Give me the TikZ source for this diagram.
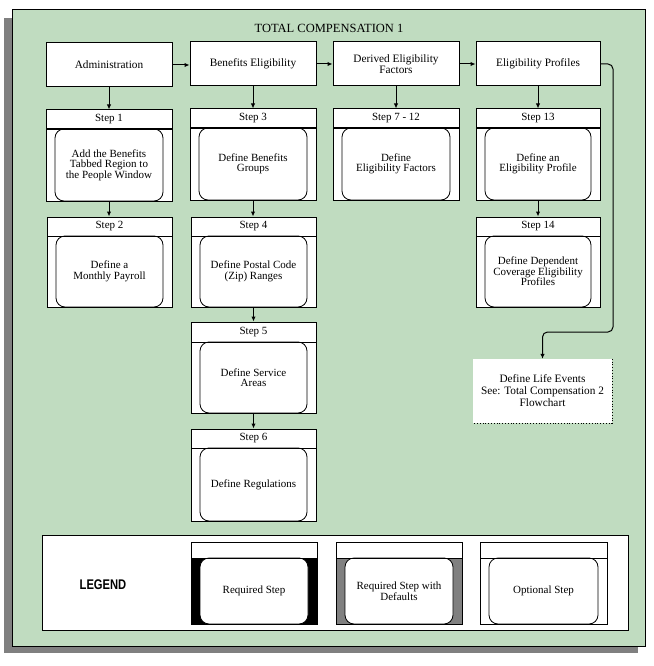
\documentclass[tikz,border=0pt]{standalone}
\usepackage{fontspec}
\setmainfont{Liberation Serif}
\newfontfamily\legendfont[FakeStretch=0.8]{Liberation Sans}
\usetikzlibrary{arrows.meta,fit}
\definecolor{panelgreen}{RGB}{192,220,192}
\definecolor{shadowgray}{RGB}{128,128,128}
\tikzset{
  topbox/.style={draw, line width=1pt, fill=white, minimum height=44pt, minimum width=126pt,
    inner sep=0pt, align=center, font=\fontsize{11.3}{11}\selectfont},
  hdr/.style={font=\fontsize{11}{11}\selectfont, inner sep=0pt},
  bodytxt/.style={font=\fontsize{11}{10.5}\selectfont, align=center, inner sep=0pt},
  frame/.style={draw, line width=1pt, inner sep=0pt},
  conn/.style={line width=1pt, -{Latex[length=5pt,width=4.5pt]}},
}
% #1 name, #2 left, #3 top, #4 right, #5 bottom, #6 header line y, #7 header, #8 body, #9 corner fill
\newcommand\flowstep[9]{%
  \fill[white] (#2,#3) rectangle (#4,#5);
  \fill[#9] (#2,#6) rectangle (#4,#5);
  \draw[line width=0.8pt, fill=white, rounded corners=9pt] (#2+9,#6) rectangle (#4-9,#5);
  \draw[line width=1pt] (#2,#6) -- (#4,#6);
  \node[frame, fit={(#2,#3) (#4,#5)}] (#1) {};
  \node[hdr] (#1h) at ({(#2+#4)/2},{(#3+#6)/2}) {#7};
  \node[bodytxt] (#1b) at ({(#2+#4)/2},{(#6+#5)/2}) {#8};
}
\begin{document}
\begin{tikzpicture}[x=1pt,y=-1pt]
\useasboundingbox (0,0) rectangle (653,666);
% panel with shadow
\fill[shadowgray] (4,18) rectangle (638,653);
\draw[fill=panelgreen, line width=1pt] (12,10) rectangle (645,646);
\node[font=\fontsize{12.5}{12.5}\selectfont] (title) at (329,28) {TOTAL COMPENSATION 1};

% top row
\node[topbox] (admin) at (109,65) {Administration};
\node[topbox] (ben) at (253,64) {Benefits Eligibility};
\node[topbox] (der) at (396,64) {Derived Eligibility\\Factors};
\node[topbox, minimum width=124pt] (prof) at (538,64) {Eligibility Profiles};

% steps
\flowstep{s1}{46}{110}{172}{201}{129}{Step 1}{Add the Benefits\\Tabbed Region to\\the People Window}{white}
\flowstep{s2}{47}{217}{172}{307}{236}{Step 2}{Define a\\Monthly Payroll}{white}
\flowstep{s3}{190}{109}{316}{200}{128}{Step 3}{Define Benefits\\Groups}{white}
\flowstep{s4}{191}{217}{316}{307}{236}{Step 4}{Define Postal Code\\(Zip) Ranges}{white}
\flowstep{s5}{191}{322}{316}{413}{342}{Step 5}{Define Service\\Areas}{white}
\flowstep{s6}{191}{429}{316}{521}{448}{Step 6}{Define Regulations}{white}
\flowstep{s7}{333}{109}{459}{200}{128}{Step 7 - 12}{Define\\Eligibility Factors}{white}
\flowstep{s13}{476}{109}{600}{200}{128}{Step 13}{Define an\\Eligibility Profile}{white}
\flowstep{s14}{476}{217}{600}{307}{236}{Step 14}{Define Dependent\\Coverage Eligibility\\Profiles}{white}

% life events
\node[fill=white, minimum width=139pt, minimum height=64pt, inner sep=0pt, align=center,
  font=\fontsize{11.3}{12}\selectfont] (life) at (542.5,391)
  {Define Life Events\\See: Total Compensation 2\\Flowchart};
\draw[dotted, line width=0.8pt] (life.north east) -- (life.south east) -- (life.south west);

% connectors
\draw[conn] (admin.east) -- (admin.east -| ben.west);
\draw[conn] (ben.east) -- (ben.east -| der.west);
\draw[conn] (der.east) -- (der.east -| prof.west);
\draw[conn] (admin.south) -- (admin.south |- s1.north);
\draw[conn] (s1.south) -- (s1.south |- s2.north);
\draw[conn] (ben.south) -- (ben.south |- s3.north);
\draw[conn] (s3.south) -- (s3.south |- s4.north);
\draw[conn] (s4.south) -- (s4.south |- s5.north);
\draw[conn] (s5.south) -- (s5.south |- s6.north);
\draw[conn] (der.south) -- (der.south |- s7.north);
\draw[conn] (prof.south) -- (prof.south |- s13.north);
\draw[conn] (s13.south) -- (s13.south |- s14.north);
\coordinate (bend) at (613,332);
\draw[conn, rounded corners=5pt] (prof.east) -| (bend) -| (life.north);

% legend
\node[frame, fill=white, fit={(42,535) (628,630)}] (legend) {};
\node[font=\legendfont\bfseries\fontsize{14}{14}\selectfont] (legtitle) at (103,585) {LEGEND};
\flowstep{lreq}{191}{542}{317}{624}{558}{}{Required Step}{black}
\flowstep{ldef}{336}{542}{462}{624}{558}{}{Required Step with\\Defaults}{shadowgray}
\flowstep{lopt}{480}{542}{607}{624}{558}{}{Optional Step}{white}
\end{tikzpicture}
\end{document}
